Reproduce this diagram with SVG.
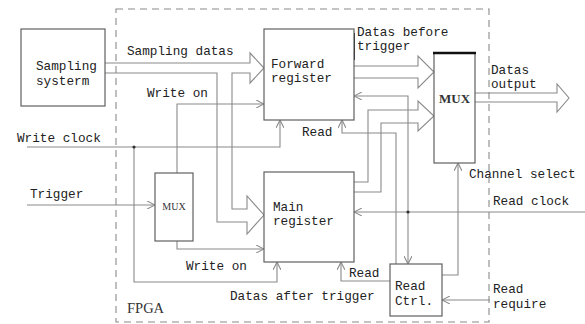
<svg xmlns="http://www.w3.org/2000/svg" width="585" height="324" viewBox="0 0 585 324">
<style>
.box{fill:#fff;stroke:#606060;stroke-width:1.2}
.ln{fill:none;stroke:#8a8a8a;stroke-width:1.1}
.bus{fill:none;stroke:#8a8a8a;stroke-width:1.1;stroke-linejoin:miter}
.t{font-family:"Liberation Mono",monospace;font-size:12.7px;fill:#222}
.s{font-family:"Liberation Serif",serif;fill:#333}
</style>
<defs>
<marker id="a" viewBox="0 0 8 8" refX="8" refY="4" markerWidth="8" markerHeight="8" markerUnits="userSpaceOnUse" orient="auto">
<path d="M0,0 L8,4 L0,8" fill="none" stroke="#8a8a8a" stroke-width="1.1"/>
</marker>
</defs>
<rect x="116" y="9" width="373" height="313" fill="none" stroke="#8a8a8a" stroke-width="1.1" stroke-dasharray="7,5"/>
<text class="s" x="127" y="313" font-size="14.5">FPGA</text>

<g id="connectors">
<path class="bus" d="M105,63 H250 V53 L264,68 L250,83 V73 H232 V209 H247 V196 L264,215 L247,234 V222 H217 V73 H105"/>
<path class="bus" d="M354,66 H418 V56 L434,72 L418,88 V78 H354"/>
<path class="bus" d="M354,182 H368 V110 H418 V101 L434,116 L418,131 V123 H381 V192 H354"/>
<path class="bus" d="M475,93 H557 V84 L569,98 L557,112 V102 H475"/>
<polyline class="ln" points="27,147 280,147 280,120" marker-end="url(#a)"/>
<polyline class="ln" points="134,147 134,282 277,282 277,262" marker-end="url(#a)"/>
<circle cx="134" cy="147" r="1.6" fill="#333"/>
<polyline class="ln" points="177,173 177,104 264,104" marker-end="url(#a)"/>
<polyline class="ln" points="177,241 177,249 264,249" marker-end="url(#a)"/>
<polyline class="ln" points="27,205 155,205" marker-end="url(#a)"/>
<polyline class="ln" points="585,212 354,212" marker-end="url(#a)"/>
<polyline class="ln" points="408,212 408,96 354,96" marker-end="url(#a)"/>
<polyline class="ln" points="408,212 408,264" marker-end="url(#a)"/>
<circle cx="408" cy="212" r="1.6" fill="#333"/>
<polyline class="ln" points="396,264 396,133 342,133 342,120" marker-end="url(#a)"/>
<polyline class="ln" points="390,281 341,281 341,262" marker-end="url(#a)"/>
<polyline class="ln" points="442,275 458,275 458,163" marker-end="url(#a)"/>
<polyline class="ln" points="490,300 442,300" marker-end="url(#a)"/>
<line x1="354" y1="33" x2="354" y2="60" stroke="#111" stroke-width="2"/>
</g>

<g id="sampling">
<rect class="box" x="21" y="29" width="84" height="77"/>
<text class="t" x="36" y="70">Sampling</text>
<text class="t" x="36" y="85">systerm</text>
</g>
<g id="forward">
<rect class="box" x="264" y="29" width="90" height="91"/>
<text class="t" x="271" y="68">Forward</text>
<text class="t" x="271" y="82">register</text>
</g>
<g id="main">
<rect class="box" x="264" y="172" width="90" height="90"/>
<text class="t" x="273" y="211">Main</text>
<text class="t" x="273" y="225">register</text>
</g>
<g id="mux">
<rect class="box" x="434" y="53" width="41" height="110"/>
<line x1="433" y1="53" x2="476" y2="53" stroke="#111" stroke-width="2.5"/>
<text class="s" x="454.5" y="103" font-size="13" font-weight="bold" text-anchor="middle">MUX</text>
</g>
<g id="mux-small">
<rect class="box" x="155" y="173" width="38" height="68"/>
<text class="s" x="174" y="210" font-size="10" text-anchor="middle">MUX</text>
</g>
<g id="readctrl">
<rect class="box" x="390" y="264" width="52" height="52"/>
<text class="t" x="395" y="290">Read</text>
<text class="t" x="395" y="305">Ctrl.</text>
</g>

<g id="labels">
<text class="t" x="127" y="55">Sampling datas</text>
<text class="t" x="147" y="97">Write on</text>
<text class="t" x="17" y="142">Write clock</text>
<text class="t" x="30" y="198">Trigger</text>
<text class="t" x="186" y="270">Write on</text>
<text class="t" x="230" y="300">Datas after trigger</text>
<text class="t" x="302" y="136">Read</text>
<text class="t" x="349" y="277">Read</text>
<text class="t" x="357" y="36">Datas before</text>
<text class="t" x="357" y="50">trigger</text>
<text class="t" x="491" y="74">Datas</text>
<text class="t" x="491" y="88">output</text>
<text class="t" x="469" y="178">Channel select</text>
<text class="t" x="493" y="205">Read clock</text>
<text class="t" x="493" y="293">Read</text>
<text class="t" x="493" y="308">require</text>
</g>
</svg>
